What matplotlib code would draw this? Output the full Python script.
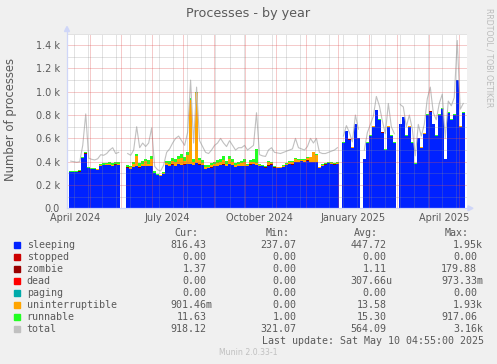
import numpy as np
import pandas as pd
import matplotlib
matplotlib.use("Agg")
import matplotlib.pyplot as plt
import matplotlib.dates as mdates
from matplotlib.patches import Rectangle, Polygon

W, H = 497, 364
nan = np.nan

# one sample every ~3 days
dates = pd.date_range("2024-04-12", "2025-05-05", periods=132)

sleeping = [312, 310, 308, 312, 430, 470, 345, 335, 338, 330,
            365, 368, 372, 370, 365, 375, 370, nan, nan, 350,
            340, 355, 360, 350, 360, 365, 360, 360, 300, 285,
            280, 295, 370, 360, 375, 365, 380, 370, 375, 380,
            380, 370, 385, 375, 370, 340, 345, 350, 360, 365,
            370, 375, 360, 380, 370, 355, 365, 360, 365, 360,
            375, 380, 370, 365, 360, 350, 365, 372, 350, 345,
            345, 355, 370, 380, 375, 395, 400, 405, 400, 410,
            395, 400, 395, 345, 360, 375, 385, 380, 375, 380,
            nan, 560, 660, 590, 520, 720, 600, nan, 420, 560,
            620, 700, 840, 760, 650, 500, 700, 620, 560, nan,
            720, 780, 620, 700, 560, 380, 600, 520, 640, 800,
            830, 720, 620, 800, 850, 420, 820, 760, 800, 1100, 700, 820]
zombie = [1, 1, 1, 5, 1, 1, 1, 1, 1, 1,
          1, 1, 1, 1, 1, 1, 1, nan, nan, 1,
          1, 1, 1, 1, 1, 1, 1, 1, 1, 1,
          1, 1, 1, 1, 1, 1, 1, 1, 1, 1,
          1, 1, 1, 1, 1, 1, 1, 1, 1, 1,
          1, 1, 1, 1, 1, 1, 1, 1, 1, 1,
          1, 1, 1, 1, 1, 1, 8, 6, 2, 1,
          1, 1, 1, 1, 1, 1, 1, 1, 1, 1,
          1, 1, 1, 1, 1, 1, 1, 1, 1, 1,
          nan, 1, 1, 1, 1, 1, 1, nan, 1, 1,
          1, 1, 1, 1, 1, 1, 1, 1, 1, nan,
          1, 1, 1, 1, 1, 1, 1, 1, 1, 1,
          1, 1, 1, 1, 1, 1, 1, 1, 1, 1, 1, 1]
uninterruptible = [2, 3, 2, 3, 3, 5, 3, 2, 2, 2,
                   3, 3, 3, 5, 5, 4, 5, nan, nan, 5,
                   10, 20, 90, 15, 20, 40, 20, 60, 5, 2,
                   2, 5, 15, 20, 30, 30, 40, 60, 30, 80,
                   550, 30, 600, 40, 20, 10, 10, 20, 15, 25,
                   30, 40, 20, 40, 30, 15, 15, 25, 30, 10,
                   20, 15, 20, 5, 5, 5, 25, 10, 5, 5,
                   5, 10, 10, 15, 20, 30, 15, 10, 10, 20,
                   40, 80, 60, 5, 10, 5, 5, 5, 5, 5,
                   nan, 2, 1, 1, 1, 1, 1, nan, 1, 1,
                   1, 1, 1, 1, 1, 1, 1, 1, 1, nan,
                   1, 1, 1, 1, 1, 1, 1, 1, 1, 1,
                   1, 1, 1, 1, 1, 1, 1, 1, 1, 1, 1, 1]
runnable = [6, 8, 6, 8, 6, 10, 6, 5, 5, 6,
            12, 15, 12, 18, 22, 18, 18, nan, nan, 18,
            15, 18, 18, 25, 28, 20, 30, 25, 10, 5,
            5, 10, 18, 25, 28, 30, 25, 35, 35, 25,
            18, 25, 12, 18, 25, 18, 12, 18, 20, 25,
            25, 30, 25, 25, 25, 15, 18, 20, 25, 12,
            15, 25, 120, 10, 6, 6, 8, 6, 6, 6,
            6, 8, 12, 8, 12, 6, 8, 8, 8, 8,
            6, 6, 6, 6, 8, 12, 8, 8, 8, 8,
            nan, 8, 3, 3, 3, 3, 3, nan, 3, 3,
            3, 3, 3, 3, 3, 3, 3, 3, 3, nan,
            3, 3, 3, 3, 3, 3, 3, 3, 3, 3,
            6, 3, 3, 3, 6, 3, 3, 3, 3, 3, 3, 3]
total = [405, 400, 395, 400, 540, 810, 430, 420, 415, 425,
         460, 455, 470, 500, 520, 470, 480, nan, nan, 470,
         455, 500, 700, 520, 560, 530, 560, 690, 360, 330,
         320, 370, 480, 510, 560, 600, 620, 580, 540, 650,
         1100, 560, 1040, 580, 530, 480, 470, 500, 540, 560,
         600, 560, 530, 580, 540, 500, 520, 520, 540, 500,
         520, 540, 820, 460, 450, 445, 500, 520, 480, 475,
         470, 480, 490, 500, 510, 600, 520, 510, 500, 530,
         600, 560, 600, 480, 470, 470, 480, 490, 500, 520,
         nan, 620, 710, 650, 570, 800, 680, nan, 500, 650,
         720, 790, 960, 880, 750, 640, 900, 700, 640, nan,
         890, 870, 700, 800, 680, 450, 720, 620, 720, 940,
         1040, 820, 760, 900, 980, 600, 920, 880, 950, 1440, 850, 900]

names = ["sleeping", "stopped", "zombie", "dead", "paging",
         "uninterruptible", "runnable", "total"]
colors = ["#0022ff", "#cc0000", "#990000", "#ff0000", "#00aaaa",
          "#ffa500", "#22ff22", "#c0c0c0"]
cur = ["816.43", "0.00", "1.37", "0.00", "0.00", "901.46m", "11.63", "918.12"]
mins = ["237.07", "0.00", "0.00", "0.00", "0.00", "0.00", "1.00", "321.07"]
avgs = ["447.72", "0.00", "1.11", "307.66u", "0.00", "13.58", "15.30", "564.09"]
maxs = ["1.95k", "0.00", "179.88", "973.33m", "0.00", "1.93k", "917.06", "3.16k"]

ytick_vals = [0, 200, 400, 600, 800, 1000, 1200, 1400]
ytick_labels = ["0.0", "0.2 k", "0.4 k", "0.6 k", "0.8 k", "1.0 k", "1.2 k", "1.4 k"]
xlabel_dates = ["2024-04-16", "2024-07-16", "2024-10-16", "2025-01-16", "2025-04-16"]
xlabel_texts = ["April 2024", "July 2024", "October 2024", "January 2025", "April 2025"]

TXT = "#5a5a5a"


def fx(x):
    return x / W


def fy(y):
    return 1 - y / H


fig = plt.figure(figsize=(W / 100, H / 100), dpi=100, facecolor="#f0f0f0")
ax = fig.add_axes([fx(67), fy(208.3), 400 / W, (208.3 - 33.5) / H])
ax.set_facecolor("white")

x = mdates.date2num(dates)
w = x[1] - x[0]

# stacked areas, drawn as one column per sample like rrdtool does
base = np.zeros(len(x))
for vals, c in [(sleeping, colors[0]), (zombie, colors[2]),
                (uninterruptible, colors[5]), (runnable, colors[6])]:
    v = np.array(vals, dtype=float)
    ax.bar(x, v, width=w * 1.05, bottom=base, color=c, linewidth=0,
           antialiased=False, zorder=2)
    base = base + v
ax.plot(x, np.array(total, dtype=float), color=colors[7], lw=0.8, zorder=2.5)

x0 = mdates.date2num(pd.Timestamp("2024-04-08 07:00"))
x1 = mdates.date2num(pd.Timestamp("2025-05-08 17:00"))
ax.set_xlim(x0, x1)
ax.set_ylim(0, 1500)

# grid: grey minor, red major, dotted, on top of the data
dot = (0, (1, 1))
for v in range(100, 1501, 200):
    ax.axhline(v, color="#8f8f8f", alpha=0.5, lw=0.72, ls=dot, zorder=3)
for d in pd.date_range("2024-04-15", "2025-05-08", freq="14D"):
    ax.axvline(mdates.date2num(d), color="#8f8f8f", alpha=0.5, lw=0.72, ls=dot, zorder=3)
for v in range(200, 1401, 200):
    ax.axhline(v, color="#e05050", alpha=0.6, lw=0.72, ls=dot, zorder=3)
for d in pd.date_range("2024-05-01", "2025-05-01", freq="MS"):
    ax.axvline(mdates.date2num(d), color="#e05050", alpha=0.6, lw=0.72, ls=dot, zorder=3)

ax.set_yticks(ytick_vals, ytick_labels)
ax.set_xticks(mdates.date2num(pd.to_datetime(xlabel_dates)), xlabel_texts)
ax.tick_params(axis="both", length=0, labelsize=7, labelcolor=TXT)
ax.tick_params(axis="y", pad=5)
ax.tick_params(axis="x", pad=3.5)
for s in ax.spines.values():
    s.set_visible(False)

# axis lines with arrows
axc = "#cfd6f8"
px_x, px_y = 1 / 400, 1 / 174.8
ax.plot([0, 0], [0, 1 + 3 * px_y], color=axc, lw=0.9, transform=ax.transAxes, clip_on=False, zorder=4)
ax.plot([0, 1 + 2 * px_x], [0, 0], color=axc, lw=0.9, transform=ax.transAxes, clip_on=False, zorder=4)
ax.add_patch(Polygon([(-2.5 * px_x, 1 + 2 * px_y), (2.5 * px_x, 1 + 2 * px_y), (0, 1 + 7 * px_y)],
                     closed=True, color=axc, transform=ax.transAxes, clip_on=False, zorder=4))
ax.add_patch(Polygon([(1 + 1 * px_x, -2.5 * px_y), (1 + 1 * px_x, 2.5 * px_y), (1 + 6 * px_x, 0)],
                     closed=True, color=axc, transform=ax.transAxes, clip_on=False, zorder=4))

fig.text(fx(248.4), fy(13.3), "Processes - by year", ha="center", va="center",
         fontsize=9.2, color=TXT)
fig.text(fx(11), fy(120), "Number of processes", rotation=90, ha="center",
         va="center", fontsize=8.4, color=TXT)
fig.text(fx(489), fy(57.4), "RRDTOOL / TOBI OETIKER", rotation=270, ha="center",
         va="center", fontsize=5.6, color="#bbbbbb")

# legend table
mono = dict(family="DejaVu Sans Mono", fontsize=7.2, color=TXT, va="center")
charw = 6.02
row0, step = 233.3, 11.97
digit_right = [206.7, 296.7, 386.7, 477.0]
head_right = [198.3, 290.0, 378.3, 468.3]
for hx, head in zip(head_right, ["Cur:", "Min:", "Avg:", "Max:"]):
    fig.text(fx(hx), fy(row0), head, ha="right", **mono)
for i, name in enumerate(names):
    yc = row0 + (i + 1) * step
    fig.patches.append(Rectangle((fx(14), fy(yc + 3)), 6 / W, 6 / H,
                                 transform=fig.transFigure, color=colors[i], figure=fig))
    fig.text(fx(26.7), fy(yc), name, ha="left", **mono)
    for dx, col in zip(digit_right, [cur, mins, avgs, maxs]):
        s = col[i]
        xr = dx + (charw if s[-1].isalpha() else 0)
        fig.text(fx(xr), fy(yc), s, ha="right", **mono)
fig.text(fx(261.7), fy(row0 + 9 * step), "Last update: Sat May 10 04:55:00 2025",
         ha="left", **mono)
fig.text(fx(248), fy(352.7), "Munin 2.0.33-1", ha="center", va="center",
         fontsize=5.6, color="#c0c0c0")

fig.savefig("out.png", dpi=100, facecolor=fig.get_facecolor())
